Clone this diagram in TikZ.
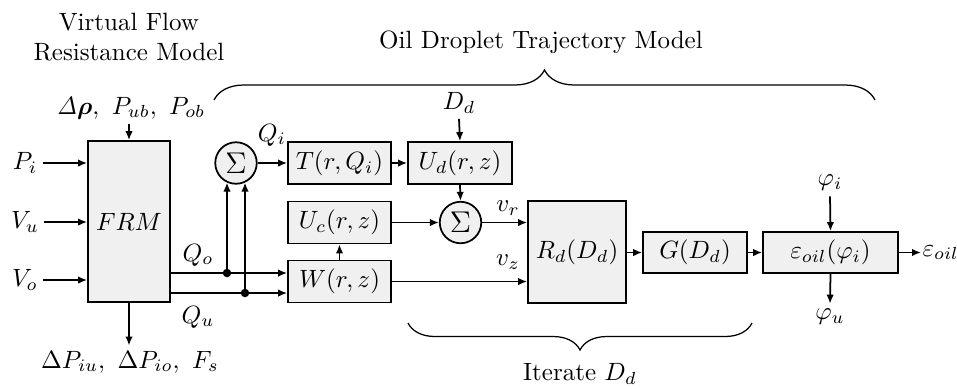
\documentclass[tikz,border=0pt]{standalone}
\usepackage{amsmath,amssymb,bm}
\usetikzlibrary{arrows.meta,decorations.pathreplacing}
\begin{document}
\begin{tikzpicture}[x=0.4pt,y=-0.4pt,
  blk/.style={draw,line width=0.7pt,fill=black!6,inner sep=0pt,minimum height=16.8pt},
  sumnode/.style={draw,circle,line width=0.7pt,fill=black!6,inner sep=0pt,minimum size=16.6pt,font=\large},
  lbl/.style={inner sep=2pt},
  arr/.style={line width=0.7pt,-{Latex[length=3.6pt,width=3pt]}},
  dot/.style={circle,fill,inner sep=0pt,minimum size=3.4pt},
  brc/.style={line width=0.5pt,decorate},
]
\useasboundingbox (0,0) rectangle (957,388);

% titles
\node[align=center] (vfrm) at (129,37.5) {Virtual Flow\\Resistance Model};
\node (odtm) at (541,42) {Oil Droplet Trajectory Model};
\node (iter) at (580,374) {Iterate $D_d$};

% blocks
\node[blk,minimum width=32.8pt,minimum height=64.4pt] (FRM) at (129,221.5) {$FRM$};
\node[sumnode] (S1) at (236,163) {$\Sigma$};
\node[blk,minimum width=41.2pt] (T) at (339.5,163) {$T(r,Q_i)$};
\node[blk,minimum width=41.6pt] (Ud) at (460,163) {$U_d(r,z)$};
\node[blk,minimum width=41.2pt] (Uc) at (339.5,222.5) {$U_c(r,z)$};
\node[blk,minimum width=41.2pt] (W) at (339.5,281.5) {$W(r,z)$};
\node[sumnode] (S2) at (460.5,222.5) {$\Sigma$};
\node[blk,minimum width=39.2pt,minimum height=40.8pt] (Rd) at (577,252) {$R_d(D_d)$};
\node[blk,minimum width=41.6pt,minimum height=16.4pt] (G) at (695,252.5) {$G(D_d)$};
\node[blk,minimum width=54pt,minimum height=16.4pt] (E) at (830.5,252.5) {$\varepsilon_{oil}(\varphi_i)$};

% labels
\node[lbl] (Pi) at (25,163) {$P_i$};
\node[lbl] (Vu) at (25,222) {$V_u$};
\node[lbl] (Vo) at (25,280) {$V_o$};
\node[lbl] (top) at (131,108) {$\mathit{\Delta}\bm{\rho},\ P_{ub},\ P_{ob}$};
\node[lbl] (bot) at (130,362) {$\Delta P_{iu},\ \Delta P_{io},\ F_s$};
\node[lbl] (Qo) at (198,255) {$Q_o$};
\node[lbl] (Qu) at (198,317) {$Q_u$};
\node[lbl] (Qi) at (272,135) {$Q_i$};
\node[lbl] (Dd) at (459,103) {$D_d$};
\node[lbl] (vr) at (508,208) {$v_r$};
\node[lbl] (vz) at (508,262) {$v_z$};
\node[lbl] (phii) at (830,183) {$\varphi_i$};
\node[lbl] (phiu) at (830,317) {$\varphi_u$};
\node[anchor=west,inner sep=0.4pt] (eoil) at (921,252.5) {$\varepsilon_{oil}$};

% FRM inputs/outputs
\draw[arr] (Pi.east) -- (Pi.east -| FRM.west);
\draw[arr] (Vu.east) -- (Vu.east -| FRM.west);
\draw[arr] (Vo.east) -- (Vo.east -| FRM.west);
\draw[arr] (top.south -| FRM.north) -- (FRM.north);
\draw[arr] (FRM.south) -- (FRM.south |- bot.north);

% Q_o and Q_u
\coordinate (qoS) at (FRM.east |- 0,273);
\coordinate (quS) at (FRM.east |- 0,293);
\node[dot] (d1) at (227,273) {};
\node[dot] (d2) at (245,293) {};
\draw[arr] (qoS) -- (qoS -| W.west);
\draw[arr] (quS) -- (quS -| W.west);
\draw[arr] (d1.center) -- (d1 |- S1.245);
\draw[arr] (d2.center) -- (d2 |- S1.295);

% upper chain
\draw[arr] (S1.east) -- (T.west);
\draw[arr] (T.east) -- (Ud.west);
\draw[arr] (Dd.south) -- (Ud.north);
\draw[arr] (Ud.south) -- (S2.north);
\draw[arr] (Uc.east) -- (S2.west);
\draw[arr] (W.north) -- (Uc.south);
\draw[arr] (S2.east) -- (S2.east -| Rd.west);
\draw[arr] (W.east) -- (W.east -| Rd.west);
\draw[arr] (Rd.east |- G.west) -- (G.west);
\draw[arr] (G.east) -- (E.west);
\draw[arr] (phii.south) -- (E.north);
\draw[arr] (E.south) -- (phiu.north);
\draw[arr] (E.east) -- (eoil.west);

% braces
\coordinate (b1) at (214,100);
\coordinate (b2) at (875,100);
\draw[brc,decoration={brace,amplitude=12pt}] (b1) -- (b2);
\coordinate (b3) at (752,323);
\coordinate (b4) at (408,323);
\draw[brc,decoration={brace,amplitude=10.8pt}] (b3) -- (b4);
\end{tikzpicture}
\end{document}
